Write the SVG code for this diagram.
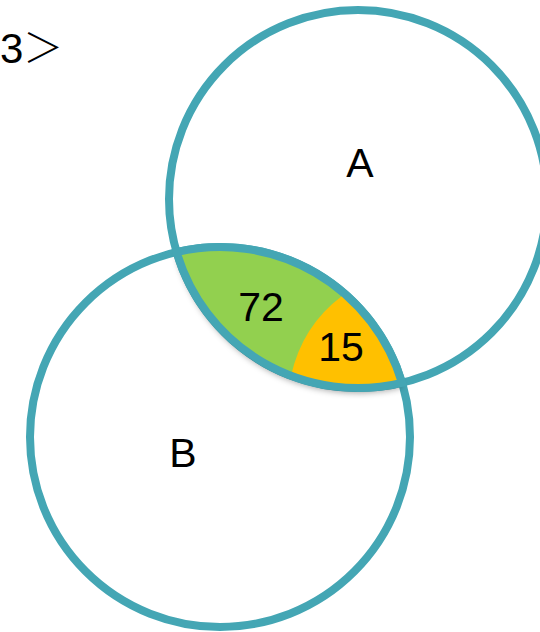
<svg xmlns="http://www.w3.org/2000/svg" width="540" height="632" viewBox="0 0 540 632">
  <style>
    .ring { fill: none; stroke: #44A6B4; stroke-width: 8; }
    .lbl { font-family: "Liberation Sans", Arial, sans-serif; font-size: 41px; fill: #000; text-anchor: middle; }
  </style>
  <defs>
    <clipPath id="lensClip">
      <path d="M176.6,252 A190,190 0 0,1 402,382.8 A189,189 0 0,1 176.6,252 Z"/>
    </clipPath>
    <filter id="shadow" x="-20%" y="-20%" width="140%" height="160%">
      <feDropShadow dx="0" dy="5" stdDeviation="3" flood-color="#000" flood-opacity="0.35"/>
    </filter>
  </defs>
  <rect width="540" height="632" fill="#fff"/>
  <text x="0" y="63" font-family="Liberation Sans, Arial, sans-serif" font-size="42" fill="#000">3</text>
  <text x="23" y="62" font-family="Noto Sans CJK JP, sans-serif" font-size="40" font-weight="300" fill="#000">＞</text>
  <g id="A">
    <circle class="ring" cx="358" cy="199" r="189"/>
  </g>
  <g id="B">
    <circle class="ring" cx="220" cy="437" r="190"/>
  </g>
  <g id="AB">
    <path d="M176.6,252 A190,190 0 0,1 402,382.8 A189,189 0 0,1 176.6,252 Z" fill="#92D050" filter="url(#shadow)"/>
    <path d="M342,296 Q302,326 291,376 L430,430 L430,270 Z" fill="#FFC000" clip-path="url(#lensClip)"/>
    <path d="M176.6,252 A190,190 0 0,1 402,382.8 A189,189 0 0,1 176.6,252 Z" class="ring"/>
  </g>
  <g id="connectors"></g>
  <text class="lbl" x="360" y="177">A</text>
  <text class="lbl" x="183" y="467">B</text>
  <text class="lbl" x="261" y="321">72</text>
  <text class="lbl" x="341" y="361" font-size="39">15</text>
</svg>
